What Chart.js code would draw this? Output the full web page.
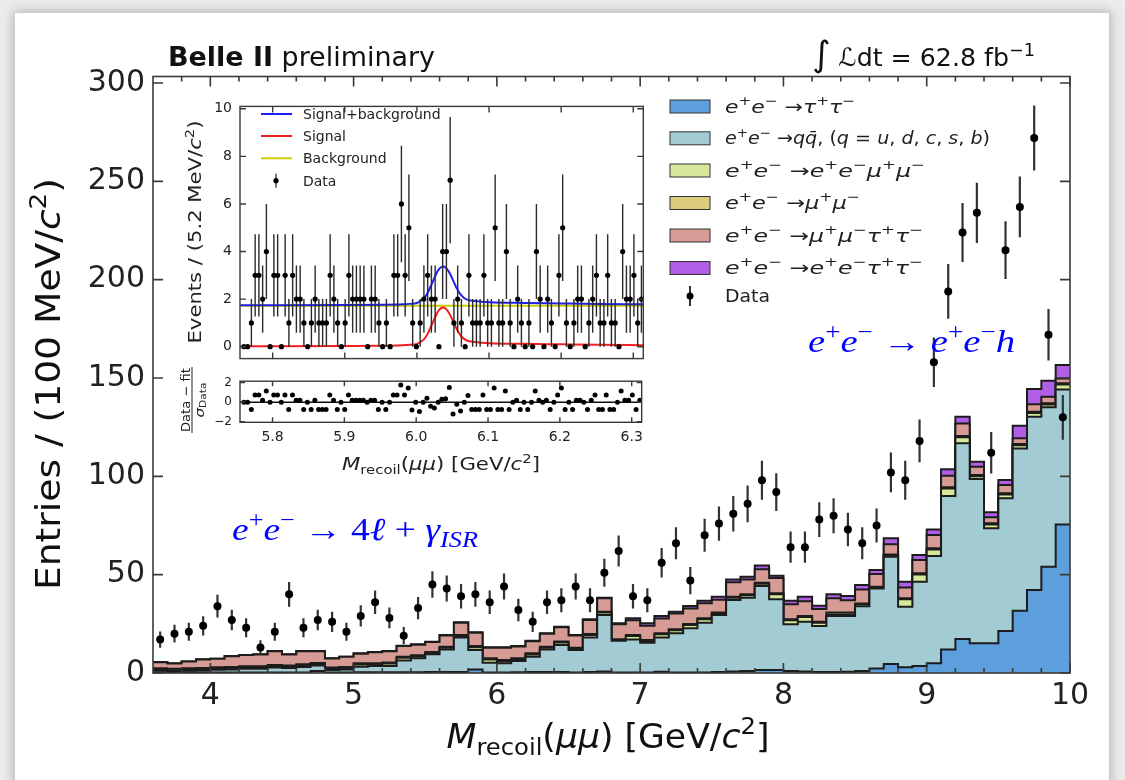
<!DOCTYPE html>
<html>
<head>
<meta charset="utf-8">
<title>Belle II recoil mass</title>
<script src="https://cdn.jsdelivr.net/npm/chart.js@4.4.1/dist/chart.umd.min.js"></script>
<style>
html,body{margin:0;padding:0;}
body{width:1125px;height:780px;overflow:hidden;background:#ebebeb;position:relative;}
#card{position:absolute;left:15px;top:13px;width:1094px;height:800px;background:#ffffff;box-shadow:0 0 10px 2px rgba(0,0,0,0.22);}
canvas{position:absolute;display:block;}
</style>
</head>
<body>
<div id="card"></div>
<canvas id="main" width="1125" height="780" style="left:0;top:0;width:1125px;height:780px"></canvas>
<canvas id="insetTop" width="500" height="285" style="left:150px;top:90px;width:500px;height:285px"></canvas>
<canvas id="insetBot" width="500" height="112" style="left:150px;top:366px;width:500px;height:112px"></canvas>
<script>
// ================= DATA : main histogram (100 MeV bins) =================
const binCenters = [3.65,3.75,3.85,3.95,4.05,4.15,4.25,4.35,4.45,4.55,4.65,4.75,4.85,4.95,
  5.05,5.15,5.25,5.35,5.45,5.55,5.65,5.75,5.85,5.95,6.05,6.15,6.25,6.35,
  6.45,6.55,6.65,6.75,6.85,6.95,7.05,7.15,7.25,7.35,7.45,7.55,7.65,7.75,7.85,
  7.95,8.05,8.15,8.25,8.35,8.45,8.55,8.65,8.75,8.85,
  8.95,9.05,9.15,9.25,9.35,9.45,9.55,9.65,9.75,9.85,9.95];

const tautau = [0.3,0.3,0.3,0.3,0.3,0.3,0.3,0.3,0.3,0.3,0.3,1.0,0.3,0.3,
  0.4,0.4,0.4,0.4,0.4,0.5,0.5,0.5,1.8,0.3,0.3,0.4,0.5,0.5,
  0.5,0.3,0.5,0.8,0.3,0.3,0.3,0.6,0.3,0.3,0.3,0.5,0.7,1.0,1.5,
  1.5,1.0,0.7,0.5,0.5,0.6,1.0,2.3,4.6,2.9,
  3.6,4.9,12.0,17.3,15.1,15.1,21.3,31.6,42.2,54.0,75.5];

const qqbar = [0.8,0.6,0.8,1.0,1.3,1.5,1.8,1.8,2.5,2.2,2.8,2.8,1.2,1.5,
  2.8,3.2,3.2,5.9,7.1,9.0,11.5,17.6,9.9,4.9,4.6,5.7,7.8,11.5,
  13.7,11.4,17.6,28.7,16.1,16.7,15.1,17.5,19.9,22.4,25.3,29.0,36.4,37.3,42.7,
  36.0,23.8,25.4,23.4,28.5,28.4,33.0,40.7,54.5,30.8,
  42.8,54.6,78.0,99.5,83.5,58.5,67.5,82.6,88.1,81.1,68.7];

const eemumu = [0.5,0.5,0.5,0.5,0.5,0.5,0.5,0.5,0.5,0.5,0.5,0.5,0.5,0.5,
  1.1,0.7,1.2,1.4,0.9,0.6,0.8,0.6,1.4,1.7,1.1,0.8,1.1,0.8,
  1.3,0.7,1.2,1.2,0.2,1.8,0.9,1.6,1.5,1.7,1.7,0.7,1.2,1.2,1.2,
  2.5,2.0,2.4,1.7,0.7,0.7,0.9,0.5,0.7,3.8,
  3.7,3.3,3.8,3.1,1.5,1.9,2.0,1.6,1.9,1.4,2.5];

const mumu = [0.8,0.8,0.8,0.8,0.8,0.8,0.8,0.8,0.8,0.8,0.8,0.8,0.8,0.8,
  0.6,0.6,0.6,0.6,0.6,0.6,0.6,0.6,0.6,0.6,0.6,0.6,0.6,0.6,
  0.5,0.5,0.5,0.5,0.5,0.5,0.5,0.5,0.5,0.5,0.5,0.5,0.5,0.5,0.5,
  0.5,0.5,0.5,0.5,1.0,1.0,0.5,0.4,0.5,0.5,
  0.6,0.6,0.6,0.6,0.6,0.6,0.6,0.6,0.6,0.6,0.6];

const mumutautau = [3.1,2.6,3.4,4.3,4.3,5.4,5.7,6.0,7.0,5.6,6.7,6.0,4.6,5.1,
  4.9,5.6,5.6,5.4,5.4,5.0,5.7,6.3,6.8,5.4,6.3,6.0,6.2,6.6,
  7.3,6.2,7.2,6.8,7.7,7.5,7.2,7.5,8.0,7.9,7.7,6.6,7.3,7.5,6.9,
  7.8,7.6,7.5,6.4,7.3,6.3,7.1,6.5,5.2,5.5,
  6.7,6.8,5.9,6.4,4.2,3.1,4.2,2.9,3.8,3.4,2.5];

const eetautau = [0.1,0.1,0.1,0.1,0.1,0.1,0.1,0.1,0.1,0.1,0.1,0.1,0.1,0.1,
  0.2,0.2,0.2,0.2,0.2,0.2,0.2,0.2,0.2,0.2,0.2,0.2,0.2,0.2,
  0.2,0.2,0.3,0.3,0.5,1.0,1.3,1.3,1.0,1.3,1.3,1.5,1.5,1.5,1.8,
  1.2,1.9,2.3,1.7,2.0,2.1,2.2,2.0,3.0,2.9,
  2.6,2.8,3.3,3.4,2.5,2.5,2.5,6.4,7.8,8.1,6.8];

const dataCounts = [17,20,21,24,34,27,23,13,21,40,23,27,26,21,
  29,36,28,19,33,45,43,39,40,36,44,32,26,36,
  37,44,37,51,62,39,37,56,66,47,70,76,81,86,98,
  92,64,64,78,80,73,66,75,102,98,
  118,158,194,224,234,112,215,237,272,172,130];

const dataErr = [4.1,4.5,4.6,4.9,5.8,5.2,4.8,3.6,4.6,6.3,4.8,5.2,5.1,4.6,
  5.4,6.0,5.3,4.4,5.7,6.7,6.6,6.2,6.3,6.0,6.6,5.7,5.1,6.0,
  6.1,6.6,6.1,7.1,7.9,6.2,6.1,7.5,8.1,6.9,8.4,8.7,9.0,9.3,9.9,
  9.6,8.0,8.0,8.8,8.9,8.5,8.1,8.7,10.1,9.9,
  10.9,12.6,13.9,15.0,15.3,10.6,14.7,15.4,16.5,13.1,11.4];

const mainXTicks = [4,5,6,7,8,9,10];
const mainYTicks = [0,50,100,150,200,250,300];

// ================= DATA : inset (5.2 MeV bins) =================
const insetFirstCenter = 5.7601;
const insetBinWidth = 0.0052;
const insetCounts = [0,0,1,3,3,2,4,0,3,3,
  0,3,1,3,2,2,1,0,1,2,
  1,1,1,3,2,1,0,1,3,2,
  2,2,2,0,2,2,1,0,1,0,
  3,3,6,3,5,1,0,1,2,3,
  2,2,0,4,4,7,1,2,1,0,
  3,1,1,1,3,1,1,5,1,1,
  4,1,0,2,1,0,1,0,4,2,
  0,2,1,0,3,5,1,0,1,2,
  2,0,1,2,3,1,1,3,1,1,
  0,4,2,2,3,1,2];
const poissonErr = [0,1,1.41,1.73,2,2.24,2.45,2.65];
const insetPulls = [0,0,-0.75,0.75,0.75,0.2,1.15,0,0.75,0.75,
  0,0.75,-0.75,0.75,0.2,0.2,-0.75,0,-0.75,0.2,
  -0.75,-0.75,-0.75,0.75,0.2,-0.75,0,-0.75,0.75,0.2,
  0.2,0.2,0.2,0,0.2,0.2,-0.75,0,-0.75,0,
  0.75,0.75,1.75,0.75,1.45,-0.8,0,-0.95,0.0,0.4,
  -0.42,-0.6,0,0.3,0.35,1.5,-1.2,-0.2,-0.9,0,
  0.7,-0.75,-0.75,-0.75,0.75,-0.75,-0.75,1.45,-0.75,-0.75,
  1.15,-0.75,0,0.2,-0.75,0,-0.75,0,1.15,0.2,
  0,0.2,-0.75,0,0.75,1.45,-0.75,0,-0.75,0.2,
  0.2,0,-0.75,0.2,0.75,-0.75,-0.75,0.75,-0.75,-0.75,
  0,1.15,0.2,0.2,0.75,-0.75,0.2];
const fitX      = [5.755,5.90,5.95,5.98,5.99,6.00,6.005,6.01,6.015,6.02,6.025,6.03,6.036,6.04,6.045,6.05,6.055,6.06,6.065,6.07,6.08,6.09,6.10,6.15,6.20,6.25,6.314];
const fitSignal = [0.02,0.03,0.04,0.06,0.08,0.12,0.2,0.32,0.55,0.88,1.22,1.52,1.65,1.6,1.4,1.08,0.75,0.5,0.34,0.25,0.2,0.17,0.15,0.12,0.1,0.08,0.06];
const fitTotal  = [1.74,1.75,1.76,1.78,1.80,1.84,1.92,2.04,2.27,2.6,2.94,3.24,3.37,3.32,3.12,2.8,2.47,2.22,2.06,1.97,1.92,1.89,1.87,1.84,1.82,1.8,1.78];
const bkgX = [5.755,6.314];
const bkgY = [1.72,1.72];
const insetXTicks = [5.8,5.9,6.0,6.1,6.2,6.3];
const insetYTicks = [0,2,4,6,8,10];
const pullYTicks = [-2,0,2];

// ================= helpers =================
const FAM = 'DejaVu Sans';
function drawRich(ctx, parts, x, y, size, family, align, color, targetW){
  const items = parts.map(p=>{
    const t=p[0], f=p[1]||'';
    const sup=f.includes('^'), sub=f.includes('_');
    const fs = (sup||sub) ? size*0.7 : size*(p[2]||1);
    const font = (f.includes('i')?'italic ':'')+(f.includes('b')?'bold ':'')+fs.toFixed(2)+'px "'+family+'"';
    ctx.font = font;
    return {t, font, w: ctx.measureText(t).width, dy: sup ? -size*0.42 : (sub ? size*0.22 : 0)};
  });
  const total = items.reduce((s,it)=>s+it.w,0);
  const sx = targetW ? targetW/total : 1;
  const W = total*sx;
  const x0 = align==='center' ? x-W/2 : (align==='right' ? x-W : x);
  ctx.save();
  ctx.translate(x0,y); ctx.scale(sx,1);
  ctx.fillStyle=color; ctx.textAlign='left'; ctx.textBaseline='alphabetic';
  let cx=0;
  items.forEach(it=>{ctx.font=it.font; ctx.fillText(it.t,cx,it.dy); cx+=it.w;});
  ctx.restore();
  return W;
}
function parseMath(s){
  const parts=[]; let i=0;
  while(i<s.length){
    if((s[i]==='^'||s[i]==='_') && s[i+1]==='{'){
      const j=s.indexOf('}',i);
      const inner=s.slice(i+2,j);
      parts.push([inner,(s[i]==='^'?'^':'_')+(/[A-Za-z]/.test(inner)?'i':'')]);
      i=j+1;
    } else {
      const ch=s[i];
      if(/[\u0300-\u036f]/.test(ch) && parts.length){ parts[parts.length-1][0]+=ch; i++; continue; }
      parts.push([ch, /[A-Za-z\u03b1-\u03c9\u2113]/.test(ch)?'i':'']);
      i++;
    }
  }
  return parts;
}
function rotatedRich(ctx, parts, bx, cy, size, family, color, targetW){
  ctx.save(); ctx.translate(bx,cy); ctx.rotate(-Math.PI/2);
  drawRich(ctx, parts, 0, 0, size, family, 'center', color, targetW);
  ctx.restore();
}
function frameTicks(id, o){
  return { id, afterDatasetsDraw(chart){
    const {ctx, chartArea:a, scales} = chart;
    const x=scales.x, y=scales.y;
    ctx.save();
    ctx.strokeStyle='#3a3a3a'; ctx.lineWidth=o.lw;
    ctx.strokeRect(a.left,a.top,a.right-a.left,a.bottom-a.top);
    ctx.beginPath();
    const vt=(v,L)=>{const p=x.getPixelForValue(v); ctx.moveTo(p,a.bottom); ctx.lineTo(p,a.bottom-L); ctx.moveTo(p,a.top); ctx.lineTo(p,a.top+L);};
    const ht=(v,L)=>{const p=y.getPixelForValue(v); ctx.moveTo(a.left,p); ctx.lineTo(a.left+L,p); ctx.moveTo(a.right,p); ctx.lineTo(a.right-L,p);};
    o.xMajor.forEach(v=>vt(v,o.len));
    (o.xMinor||[]).forEach(v=>vt(v,o.minLen));
    o.yMajor.forEach(v=>ht(v,o.len));
    ctx.stroke(); ctx.restore();
  }};
}
const errorBarPlugin = {
  id:'errorBars',
  beforeDatasetDraw(chart,args){
    const ds = chart.data.datasets[args.index];
    if(!ds.errorBars) return;
    const ys = chart.scales[args.meta.yAxisID];
    const ctx = chart.ctx;
    ctx.save();
    ctx.strokeStyle = ds.errorColor||'#333'; ctx.lineWidth = ds.errorWidth||1.5;
    ctx.beginPath();
    args.meta.data.forEach((el,i)=>{
      const e = ds.errorBars[i]; if(!e) return;
      const v = ds.data[i].y;
      ctx.moveTo(el.x, ys.getPixelForValue(v-e)); ctx.lineTo(el.x, ys.getPixelForValue(v+e));
    });
    ctx.stroke(); ctx.restore();
  }
};
Chart.register(errorBarPlugin);

// ================= MAIN CHART =================
function stepData(vals){
  const pts = binCenters.map((c,i)=>({x: Math.round((c-0.05)*100)/100, y: vals[i]}));
  pts.push({x: Math.round((binCenters[binCenters.length-1]+0.05)*100)/100, y: vals[vals.length-1]});
  return pts;
}
const M = '\u2212';
const bkgComponents = [
  {label:'tautau',     vals:tautau,     color:'#5d9fdc', legend:'e^{+}e^{'+M+'} \u2192\u03c4^{+}\u03c4^{'+M+'}', lw:130},
  {label:'qqbar',      vals:qqbar,      color:'#a2cbd3', legend:'e^{+}e^{'+M+'} \u2192qq\u0304, (q = u, d, c, s, b)', lw:265},
  {label:'eemumu',     vals:eemumu,     color:'#d6e899', legend:'e^{+}e^{'+M+'} \u2192e^{+}e^{'+M+'}\u03bc^{+}\u03bc^{'+M+'}', lw:200},
  {label:'mumu',       vals:mumu,       color:'#dccb7c', legend:'e^{+}e^{'+M+'} \u2192\u03bc^{+}\u03bc^{'+M+'}', lw:135},
  {label:'mumutautau', vals:mumutautau, color:'#d69b95', legend:'e^{+}e^{'+M+'} \u2192\u03bc^{+}\u03bc^{'+M+'}\u03c4^{+}\u03c4^{'+M+'}', lw:198},
  {label:'eetautau',   vals:eetautau,   color:'#b15ee6', legend:'e^{+}e^{'+M+'} \u2192e^{+}e^{'+M+'}\u03c4^{+}\u03c4^{'+M+'}', lw:198}
];
const mainDatasets = bkgComponents.map((c,i)=>({
  type:'line', label:c.label, data:stepData(c.vals), stepped:'before',
  fill: i===0 ? 'origin' : '-1', backgroundColor:c.color, borderColor:'#1c1c1c', borderWidth:2,
  pointRadius:0, stack:'mc', order:1
}));
mainDatasets.push({
  type:'line', label:'Data', data: binCenters.map((c,i)=>({x:c,y:dataCounts[i]})), showLine:false,
  pointRadius:4, pointBackgroundColor:'#000', pointBorderWidth:0, stack:'data', order:0,
  errorBars:dataErr, errorColor:'#333', errorWidth:2.2
});
const xMinor=[]; for(let t=38;t<100;t+=2){ if(t%10) xMinor.push(t/10); }

const mainText = { id:'mainText', afterDraw(chart){
  const ctx=chart.ctx;
  // header
  drawRich(ctx, [['Belle II','b'],[' preliminary','']], 168, 66, 26, FAM, 'left', '#111', 267);
  drawRich(ctx, [['\u222b','',1.4],[' ',''],['\u2112dt = 62.8 fb',''],['\u22121','^']], 812, 66, 25, FAM, 'left', '#111', 223);
  // legend
  const rows=[106.5,138.3,170.5,203,235.5,268];
  bkgComponents.forEach((c,i)=>{
    ctx.save(); ctx.fillStyle=c.color; ctx.strokeStyle='#333'; ctx.lineWidth=1;
    ctx.fillRect(670,rows[i]-6.5,40,13); ctx.strokeRect(670,rows[i]-6.5,40,13); ctx.restore();
    drawRich(ctx, parseMath(c.legend), 725, rows[i]+6, 18, FAM, 'left', '#222', c.lw);
  });
  ctx.save(); ctx.strokeStyle='#333'; ctx.lineWidth=2; ctx.beginPath(); ctx.moveTo(690,286); ctx.lineTo(690,306); ctx.stroke();
  ctx.fillStyle='#000'; ctx.beginPath(); ctx.arc(690,296,3.5,0,Math.PI*2); ctx.fill(); ctx.restore();
  drawRich(ctx, [['Data','']], 725, 302, 18, FAM, 'left', '#222', 45);
  // annotations
  drawRich(ctx, parseMath('e^{+}e^{'+M+'} \u2192 e^{+}e^{'+M+'}h'), 808, 352, 32, 'Liberation Serif', 'left', '#0000ff', 207);
  drawRich(ctx, parseMath('e^{+}e^{'+M+'} \u2192 4\u2113 + \u03b3_{ISR}'), 232, 540, 32, 'Liberation Serif', 'left', '#0000ff', 246);
  // axis titles
  drawRich(ctx, [['M','i'],['recoil','_'],['(',''],['\u03bc\u03bc','i'],[') [GeV/',''],['c','i'],['2','^'],[']','']], 608, 748, 34, FAM, 'center', '#111', 323);
  rotatedRich(ctx, [['Entries / (100 MeV/',''],['c','i'],['2','^'],[')','']], 60, 384, 34, FAM, '#111', 412);
}};

new Chart(document.getElementById('main'), {
  data:{datasets:mainDatasets},
  options:{
    responsive:false, animation:false, devicePixelRatio:1,
    layout:{padding:{left:0,right:55,top:76.5,bottom:0}},
    plugins:{legend:{display:false}, tooltip:{enabled:false}},
    scales:{
      x:{type:'linear', min:3.6, max:10, grid:{display:false,drawTicks:false}, border:{display:false},
         ticks:{font:{family:FAM,size:30}, color:'#222', padding:5, autoSkip:false, maxRotation:0},
         afterBuildTicks:s=>{s.ticks=mainXTicks.map(v=>({value:v}));},
         afterFit:s=>{s.height=107;}},
      y:{type:'linear', stacked:true, min:0, max:303.3, grid:{display:false,drawTicks:false}, border:{display:false},
         ticks:{font:{family:FAM,size:30}, color:'#222', padding:8},
         afterBuildTicks:s=>{s.ticks=mainYTicks.map(v=>({value:v}));},
         afterFit:s=>{s.width=153;}}
    }
  },
  plugins:[frameTicks('mainFrame',{lw:1.6,len:10,minLen:5,xMajor:mainXTicks,xMinor:xMinor,yMajor:mainYTicks}), mainText]
});

// ================= INSET TOP =================
const insetCenters = insetCounts.map((c,k)=>Math.round((insetFirstCenter+k*insetBinWidth)*10000)/10000);
const insetTopText = { id:'insetTopText', afterDraw(chart){
  const ctx=chart.ctx;
  const rows=[24,46,68.3,90.7];
  const cols=['#1f1ff5','#f51f1f','#cccc00'];
  const labs=['Signal+background','Signal','Background','Data'];
  ctx.save(); ctx.lineWidth=2;
  cols.forEach((c,i)=>{ctx.strokeStyle=c; ctx.beginPath(); ctx.moveTo(111,rows[i]); ctx.lineTo(142,rows[i]); ctx.stroke();});
  ctx.strokeStyle='#2b2b2b'; ctx.lineWidth=1.3; ctx.beginPath(); ctx.moveTo(126,rows[3]-7); ctx.lineTo(126,rows[3]+7); ctx.stroke();
  ctx.fillStyle='#000'; ctx.beginPath(); ctx.arc(126,rows[3],2.6,0,Math.PI*2); ctx.fill();
  ctx.restore();
  labs.forEach((l,i)=>drawRich(ctx,[[l,'']],153,rows[i]+5,14,FAM,'left','#222'));
  rotatedRich(ctx, [['Events / (5.2 MeV/',''],['c','i'],['2','^'],[')','']], 51, 142, 17, FAM, '#222', 223);
}};
new Chart(document.getElementById('insetTop'), {
  type:'line',
  data:{datasets:[
    {label:'Data', data: insetCenters.map((c,i)=>({x:c,y:insetCounts[i]})), showLine:false, pointRadius:2.6,
     pointBackgroundColor:'#000', pointBorderWidth:0, errorBars: insetCounts.map(c=>poissonErr[c]), errorColor:'#2b2b2b', errorWidth:1.4, order:0},
    {label:'Signal+background', data: fitX.map((x,i)=>({x,y:fitTotal[i]})), borderColor:'#1f1ff5', borderWidth:2, pointRadius:0, cubicInterpolationMode:'monotone', order:1},
    {label:'Signal', data: fitX.map((x,i)=>({x,y:fitSignal[i]})), borderColor:'#f51f1f', borderWidth:2, pointRadius:0, cubicInterpolationMode:'monotone', order:2},
    {label:'Background', data: bkgX.map((x,i)=>({x,y:bkgY[i]})), borderColor:'#cccc00', borderWidth:2, pointRadius:0, order:3}
  ]},
  options:{
    responsive:false, animation:false, devicePixelRatio:1,
    layout:{padding:{left:0,right:6.7,top:10.7,bottom:11.7}},
    plugins:{legend:{display:false}, tooltip:{enabled:false}},
    scales:{
      x:{type:'linear', display:false, min:5.7547, max:6.3139},
      y:{type:'linear', min:-0.5, max:10.1, grid:{display:false,drawTicks:false}, border:{display:false},
         ticks:{font:{family:FAM,size:14}, color:'#222', padding:8},
         afterBuildTicks:s=>{s.ticks=insetYTicks.map(v=>({value:v}));},
         afterFit:s=>{s.width=90;}}
    }
  },
  plugins:[frameTicks('insetTopFrame',{lw:1.4,len:6,minLen:3,xMajor:insetXTicks,yMajor:insetYTicks}), insetTopText]
});

// ================= INSET BOTTOM (pulls) =================
const insetBotText = { id:'insetBotText', afterDraw(chart){
  const ctx=chart.ctx;
  drawRich(ctx, [['M','i'],['recoil','_'],['(',''],['\u03bc\u03bc','i'],[') [GeV/',''],['c','i'],['2','^'],[']','']], 291, 104, 17, FAM, 'center', '#222', 198);
  ctx.save(); ctx.translate(42,34); ctx.rotate(-Math.PI/2);
  drawRich(ctx, [['Data \u2212 fit','']], 0, -2.5, 12.5, FAM, 'center', '#222', 64);
  ctx.strokeStyle='#222'; ctx.lineWidth=1; ctx.beginPath(); ctx.moveTo(-33,0); ctx.lineTo(33,0); ctx.stroke();
  drawRich(ctx, [['\u03c3','i'],['Data','_']], 0, 11.5, 12.5, FAM, 'center', '#222', 35);
  ctx.restore();
}};
new Chart(document.getElementById('insetBot'), {
  type:'line',
  data:{datasets:[
    {label:'Pull', data: insetCenters.map((c,i)=>({x:c,y:insetPulls[i]})), showLine:false, pointRadius:2.5,
     pointBackgroundColor:'#000', pointBorderWidth:0, order:0},
    {label:'Zero', data: [{x:5.7547,y:0},{x:6.3139,y:0}], borderColor:'#111', borderWidth:1.3, pointRadius:0, order:1}
  ]},
  options:{
    responsive:false, animation:false, devicePixelRatio:1,
    layout:{padding:{left:0,right:6.7,top:8,bottom:0}},
    plugins:{legend:{display:false}, tooltip:{enabled:false}},
    scales:{
      x:{type:'linear', min:5.7547, max:6.3139, grid:{display:false,drawTicks:false}, border:{display:false},
         ticks:{font:{family:FAM,size:14}, color:'#222', padding:7, autoSkip:false, maxRotation:0, callback:v=>Number(v).toFixed(1)},
         afterBuildTicks:s=>{s.ticks=insetXTicks.map(v=>({value:v}));},
         afterFit:s=>{s.height=55.7;}},
      y:{type:'linear', min:-2.05, max:2.15, grid:{display:false,drawTicks:false}, border:{display:false},
         ticks:{font:{family:FAM,size:12}, color:'#222', padding:8, callback:v=>(v<0?'\u2212'+Math.abs(v):String(v))},
         afterBuildTicks:s=>{s.ticks=pullYTicks.map(v=>({value:v}));},
         afterFit:s=>{s.width=90;}}
    }
  },
  plugins:[frameTicks('insetBotFrame',{lw:1.4,len:5,minLen:3,xMajor:insetXTicks,yMajor:pullYTicks}), insetBotText]
});
</script>
</body>
</html>
